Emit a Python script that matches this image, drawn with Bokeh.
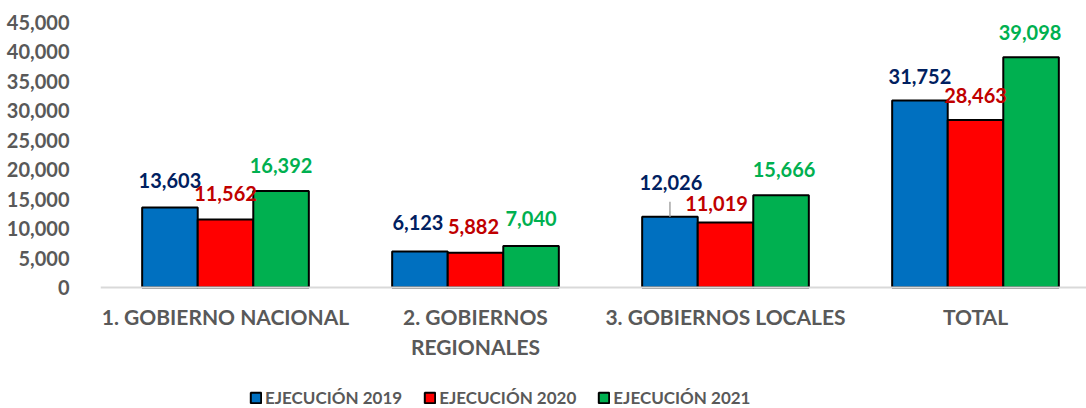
import numpy as np
from bokeh.plotting import figure
from bokeh.models import (ColumnDataSource, Range1d, FixedTicker, NumeralTickFormatter,
                          LabelSet, Legend, LegendItem)
from bokeh.core.properties import value
from bokeh.embed import file_html
from bokeh.resources import INLINE

# ---------------- data ----------------
categories = ["1. GOBIERNO NACIONAL", "2. GOBIERNOS\nREGIONALES",
              "3. GOBIERNOS LOCALES", "TOTAL"]
series_names = ["EJECUCIÓN 2019", "EJECUCIÓN 2020", "EJECUCIÓN 2021"]
ejecucion_2019 = [13603, 6123, 12026, 31752]
ejecucion_2020 = [11562, 5882, 11019, 28463]
ejecucion_2021 = [16392, 7040, 15666, 39098]
y_tick_values = [0, 5000, 10000, 15000, 20000, 25000, 30000, 35000, 40000, 45000]

# ---------------- style ----------------
FONT = "Lato"
AXIS_TEXT = "#595959"
bar_colors = ["#0070C0", "#FF0000", "#00B050"]
label_colors = ["#002060", "#C00000", "#00B050"]
# screen-pixel nudges of the value labels (as placed in the original)
label_dx = [[0, -2, 1, 0], [0, -2, -9, 0], [0, 0, 3, -1]]
label_dy = [[19, 21, 27, 17], [18, 19, 12, 17], [18, 20, 18, 17]]

Y_MAX = 45000
PLOT_H_PX = 265          # pixels from 0 to Y_MAX
FRAME_W, FRAME_H = 986, 386   # frame extends below zero to hold labels + legend
CAT_PX = 250.0
y_start = -Y_MAX * (FRAME_H - PLOT_H_PX) / PLOT_H_PX

p = figure(frame_width=FRAME_W, frame_height=FRAME_H,
           x_range=Range1d(0, FRAME_W / CAT_PX), y_range=Range1d(y_start, Y_MAX),
           output_backend="svg", toolbar_location=None,
           min_border_left=100, min_border_right=0, min_border_top=22,
           min_border_bottom=0)
p.outline_line_color = None
p.xgrid.visible = False
p.ygrid.visible = False
p.background_fill_color = "white"

centers = np.arange(len(categories)) + 0.5
bar_w = 1 / 4.5
offsets = [-bar_w, 0.0, bar_w]

all_series = [ejecucion_2019, ejecucion_2020, ejecucion_2021]
renderers = []
for i, vals in enumerate(all_series):
    src = ColumnDataSource(dict(
        x=centers + offsets[i],
        top=vals,
        label=[f"{v:,}" for v in vals],
        dx=label_dx[i],
        dy=label_dy[i],
    ))
    r = p.vbar(x="x", top="top", bottom=0, width=bar_w, source=src,
               fill_color=bar_colors[i], line_color="black", line_width=2)
    renderers.append(r)
    labels = LabelSet(x="x", y="top", text="label", x_offset="dx", y_offset="dy",
                      source=src, text_align="center", text_baseline="alphabetic",
                      text_font=value(FONT), text_font_size="20px",
                      text_font_style="bold", text_color=label_colors[i])
    p.add_layout(labels)

# leader line of the moved 12,026 label
px_per_unit = PLOT_H_PX / Y_MAX
lx = centers[2] + offsets[0]
p.segment(x0=[lx], y0=[ejecucion_2019[2]], x1=[lx],
          y1=[ejecucion_2019[2] + 15 / px_per_unit],
          line_color="#A6A6A6", line_width=1.5)

# y axis
yax = p.yaxis[0]
yax.ticker = FixedTicker(ticks=y_tick_values)
yax.formatter = NumeralTickFormatter(format="0,0")
yax.axis_line_color = None
yax.major_tick_line_color = None
yax.minor_tick_line_color = None
yax.major_label_standoff = 25
yax.major_label_text_font = FONT
yax.major_label_text_font_size = "20px"
yax.major_label_text_font_style = "bold"
yax.major_label_text_color = AXIS_TEXT

# x axis, drawn at y = 0 inside the frame
xax = p.xaxis[0]
xax.fixed_location = 0
xax.ticker = FixedTicker(ticks=list(centers))
xax.major_label_overrides = {float(c): name for c, name in zip(centers, categories)}
xax.axis_line_color = "#D9D9D9"
xax.axis_line_width = 2
xax.major_tick_line_color = None
xax.minor_tick_line_color = None
xax.major_label_standoff = 10
xax.major_label_text_font = FONT
xax.major_label_text_font_size = "21px"
xax.major_label_text_font_style = "bold"
xax.major_label_text_color = AXIS_TEXT

legend = Legend(items=[LegendItem(label=n, renderers=[r])
                       for n, r in zip(series_names, renderers)],
                orientation="horizontal", location=(149, 0),
                glyph_width=13, glyph_height=13, label_standoff=3, spacing=21,
                padding=0, margin=0, border_line_color=None,
                background_fill_alpha=0,
                label_text_font=FONT, label_text_font_size="17px",
                label_text_font_style="bold", label_text_color=AXIS_TEXT)
p.add_layout(legend)

open("out.html", "w").write(file_html(p, INLINE))
